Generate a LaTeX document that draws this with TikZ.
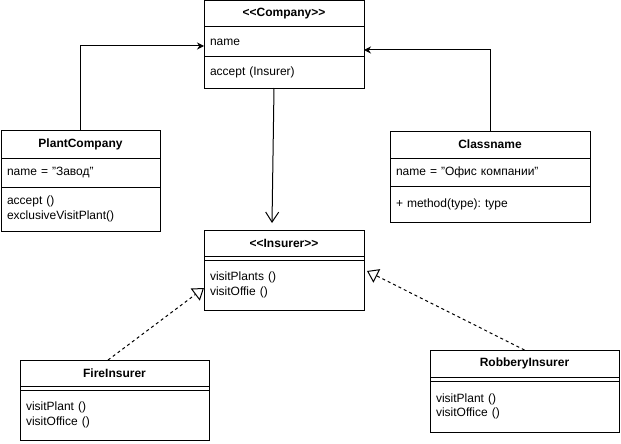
\documentclass[tikz,border=0pt]{standalone}
\usepackage{fontspec}
\setmainfont{Liberation Sans}
\usetikzlibrary{positioning,arrows.meta}
\frenchspacing

\newcommand{\stereo}[1]{<\kern0pt<#1>\kern0pt>}

\begin{document}
\begin{tikzpicture}[x=1pt, y=-1pt, line width=1pt,
    font=\fontsize{12}{14.5}\selectfont,
    classhead/.style = {draw, outer sep=0pt, inner sep=0pt, anchor=north, font=\fontsize{12}{14.5}\selectfont\bfseries},
    classpart/.style = {draw, outer sep=0pt, inner xsep=6pt, inner ysep=0pt, align=left},
    classgap/.style  = {draw, outer sep=0pt, inner sep=0pt, minimum height=4pt},
    assoc/.style     = {-{Stealth[length=7pt,width=7pt]}},
    navig/.style     = {-{Straight Barb[length=10pt,width=13pt]}},
    realize/.style   = {dash pattern=on 3pt off 3pt, -{Triangle[open,length=11pt,width=15pt]}}]
  \useasboundingbox[fill=white] (0,0) rectangle (621,444);

  % company
  \node[classhead, minimum width=160pt, minimum height=26pt] (company) at (284,1) {\stereo{Company}};
  \node[classpart, below=0pt of company, text width=148pt, minimum height=30pt] (company-attr) {name};
  \node[classpart, below=0pt of company-attr, text width=148pt, minimum height=31pt] (company-ops) {accept (Insurer)};

  % plant company
  \node[classhead, minimum width=159pt, minimum height=28pt] (plant) at (80.5,130) {PlantCompany};
  \node[classpart, below=0pt of plant, text width=147pt, minimum height=29pt] (plant-attr) {name = "Завод"};
  \node[classpart, below=0pt of plant-attr, text width=147pt, minimum height=44pt] (plant-ops) {accept ()\\exclusiveVisitPlant()};

  % office company
  \node[classhead, minimum width=200pt, minimum height=27pt] (office) at (490,131) {Classname};
  \node[classpart, below=0pt of office, text width=188pt, minimum height=28pt] (office-attr) {name = "Офис компании"};
  \node[classpart, below=0pt of office-attr, text width=188pt, minimum height=36pt] (office-ops) {+ method(type): type};

  % insurer
  \node[classhead, minimum width=160pt, minimum height=26pt] (insurer) at (284,230) {\stereo{Insurer}};
  \node[classgap, below=0pt of insurer, minimum width=160pt] (insurer-attr) {};
  \node[classpart, below=0pt of insurer-attr, text width=148pt, minimum height=50pt] (insurer-ops) {visitPlants ()\\visitOffie ()};

  % fire insurer
  \node[classhead, minimum width=189pt, minimum height=26pt] (fire) at (114.5,360) {FireInsurer};
  \node[classgap, below=0pt of fire, minimum width=189pt] (fire-attr) {};
  \node[classpart, below=0pt of fire-attr, text width=177pt, minimum height=50pt] (fire-ops) {visitPlant ()\\visitOffice ()};

  % robbery insurer
  \node[classhead, minimum width=189pt, minimum height=27pt] (robbery) at (524.5,350) {RobberyInsurer};
  \node[classgap, below=0pt of robbery, minimum width=189pt] (robbery-attr) {};
  \node[classpart, below=0pt of robbery-attr, text width=177pt, minimum height=51pt] (robbery-ops) {visitPlant ()\\visitOffice ()};

  \draw[assoc] (plant.north) |- ([yshift=-4pt]company-attr.west);
  \draw[assoc] (office.north) |- ([yshift=-8pt]company-attr.east);
  \draw[navig] ([xshift=-10pt]company-ops.south) -- ([xshift=-12pt,yshift=7pt]insurer.north);
  \draw[realize] ([xshift=-6.5pt]fire.north) -- ([yshift=-3pt]insurer-ops.west);
  \draw[realize] (robbery.north) -- ([xshift=3pt,yshift=14pt]insurer-ops.east);
\end{tikzpicture}
\end{document}
